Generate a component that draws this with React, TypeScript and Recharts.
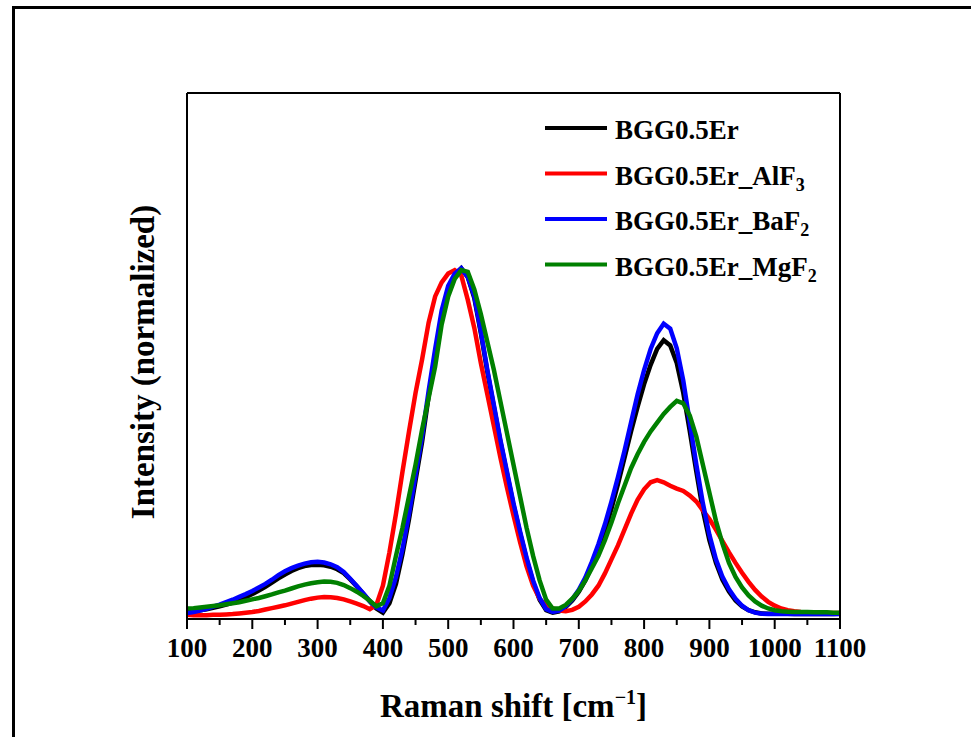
import { LineChart, Line, XAxis, YAxis, Legend, Label } from 'recharts'

const FONT = '"Liberation Serif", "Times New Roman", serif'

// Raman shift (cm^-1), one point every 10 cm^-1
const shift = [
  100, 110, 120, 130, 140, 150, 160, 170, 180, 190,
  200, 210, 220, 230, 240, 250, 260, 270, 280, 290,
  300, 310, 320, 330, 340, 350, 360, 370, 380, 390,
  400, 410, 420, 430, 440, 450, 460, 470, 480, 490,
  500, 510, 520, 530, 540, 550, 560, 570, 580, 590,
  600, 610, 620, 630, 640, 650, 660, 670, 680, 690,
  700, 710, 720, 730, 740, 750, 760, 770, 780, 790,
  800, 810, 820, 830, 840, 850, 860, 870, 880, 890,
  900, 910, 920, 930, 940, 950, 960, 970, 980, 990,
  1000, 1010, 1020, 1030, 1040, 1050, 1060, 1070, 1080, 1090,
  1100,
]

const bgg = [
  0.02, 0.022, 0.025, 0.028, 0.032, 0.036, 0.041, 0.047, 0.054, 0.062,
  0.071, 0.081, 0.092, 0.104, 0.116, 0.127, 0.137, 0.145, 0.151, 0.154,
  0.155, 0.153, 0.149, 0.142, 0.131, 0.113, 0.093, 0.072, 0.05, 0.03,
  0.018, 0.045, 0.1, 0.185, 0.285, 0.395, 0.505, 0.635, 0.755, 0.865,
  0.94, 0.98, 1.0, 0.975, 0.915, 0.815, 0.705, 0.605, 0.505, 0.415,
  0.325, 0.245, 0.17, 0.105, 0.055, 0.025, 0.018, 0.022, 0.034, 0.053,
  0.078, 0.11, 0.15, 0.195, 0.25, 0.315, 0.385, 0.46, 0.535, 0.605,
  0.67, 0.725, 0.77, 0.795, 0.78, 0.73, 0.645, 0.535, 0.42, 0.31,
  0.225, 0.16, 0.112, 0.078, 0.053, 0.036, 0.025, 0.019, 0.016, 0.015,
  0.015, 0.015, 0.015, 0.014, 0.015, 0.014, 0.015, 0.014, 0.015, 0.014,
  0.015,
]

const bggAlF3 = [
  0.012, 0.011, 0.011, 0.011, 0.012, 0.012, 0.013, 0.014, 0.016, 0.018,
  0.02, 0.023, 0.027, 0.031, 0.035, 0.039, 0.044, 0.049, 0.054, 0.058,
  0.061, 0.063, 0.062, 0.06, 0.056, 0.05, 0.044, 0.037, 0.028, 0.04,
  0.095, 0.19, 0.3, 0.42, 0.535, 0.645, 0.74, 0.845, 0.92, 0.96,
  0.985, 0.995, 0.98, 0.91, 0.83, 0.73, 0.64, 0.55, 0.46, 0.375,
  0.295, 0.22, 0.15, 0.095, 0.058, 0.038, 0.03, 0.024, 0.022, 0.026,
  0.035, 0.05, 0.07, 0.095, 0.13, 0.17, 0.21, 0.255, 0.3, 0.34,
  0.37, 0.39, 0.396, 0.39, 0.38, 0.372, 0.365, 0.352, 0.335, 0.31,
  0.285, 0.255, 0.222, 0.19, 0.16, 0.132, 0.106, 0.083, 0.064, 0.049,
  0.038, 0.03, 0.025, 0.022, 0.02, 0.019, 0.018, 0.018, 0.017, 0.017,
  0.017,
]

const bggBaF2 = [
  0.017, 0.02, 0.024, 0.029, 0.035, 0.041, 0.048, 0.055, 0.063, 0.071,
  0.08, 0.09, 0.1, 0.112, 0.125, 0.136, 0.145, 0.152, 0.158, 0.162,
  0.163, 0.161, 0.156, 0.148, 0.134, 0.115, 0.094, 0.073, 0.051, 0.033,
  0.024, 0.06, 0.12, 0.2, 0.3, 0.41, 0.52, 0.65, 0.77, 0.88,
  0.95, 0.985, 1.0, 0.975, 0.92, 0.82, 0.71, 0.61, 0.51, 0.42,
  0.33, 0.25, 0.175, 0.11, 0.06, 0.028, 0.02, 0.024, 0.036, 0.056,
  0.083, 0.118, 0.163, 0.213, 0.27, 0.335, 0.405, 0.48, 0.56, 0.64,
  0.71, 0.77, 0.815, 0.842, 0.828, 0.772, 0.68, 0.56, 0.44, 0.33,
  0.24, 0.17, 0.12, 0.085, 0.058, 0.038, 0.025, 0.018, 0.015, 0.014,
  0.014, 0.014, 0.015, 0.014, 0.014, 0.015, 0.014, 0.014, 0.015, 0.014,
  0.014,
]

const bggMgF2 = [
  0.03, 0.031, 0.033, 0.035, 0.037, 0.039, 0.042, 0.045, 0.048, 0.052,
  0.056, 0.06, 0.065, 0.07, 0.076, 0.081, 0.087, 0.093, 0.098, 0.102,
  0.105, 0.107, 0.106, 0.103, 0.097, 0.088, 0.078, 0.066, 0.052, 0.036,
  0.045, 0.095, 0.18, 0.26, 0.35, 0.44, 0.54, 0.63, 0.72, 0.84,
  0.92, 0.97, 0.995, 0.99, 0.94, 0.87, 0.79, 0.71, 0.62, 0.53,
  0.44, 0.35, 0.26, 0.18, 0.11, 0.055, 0.03, 0.03, 0.04, 0.058,
  0.08, 0.11, 0.145, 0.18, 0.225, 0.275, 0.33, 0.38, 0.43, 0.47,
  0.505, 0.535, 0.56, 0.585, 0.605, 0.622, 0.615, 0.58, 0.52, 0.44,
  0.36, 0.28, 0.215, 0.16, 0.12, 0.09, 0.067, 0.05, 0.038, 0.03,
  0.025, 0.022, 0.021, 0.02, 0.02, 0.02, 0.019, 0.019, 0.019, 0.018,
  0.018,
]

const xTicks = [
  100, 150, 200, 250, 300, 350, 400, 450, 500, 550, 600,
  650, 700, 750, 800, 850, 900, 950, 1000, 1050, 1100,
]

const series = [
  { key: 'bgg', base: 'BGG0.5Er', sub: '', color: '#000000' },
  { key: 'alf3', base: 'BGG0.5Er_AlF', sub: '3', color: '#ff0000' },
  { key: 'baf2', base: 'BGG0.5Er_BaF', sub: '2', color: '#0000ff' },
  { key: 'mgf2', base: 'BGG0.5Er_MgF', sub: '2', color: '#008000' },
]

const data = shift.map((x, i) => ({
  shift: x,
  bgg: bgg[i],
  alf3: bggAlF3[i],
  baf2: bggBaF2[i],
  mgf2: bggMgF2[i],
}))

const TICK_SIZE = 10
const TICK_MARGIN = 6

// major ticks every 100 get a label, minor ones every 50 are shorter
function XTick(props: any) {
  const { x, y, payload } = props
  const major = payload.value % 100 === 0
  const axisY = y - TICK_SIZE - TICK_MARGIN
  return (
    <g>
      <line x1={x} x2={x} y1={axisY} y2={axisY + (major ? 10 : 6)} stroke="#000" strokeWidth={2} />
      {major && (
        <text x={x} y={axisY + 38} textAnchor="middle" fontSize={27} fontWeight={700} fill="#000">
          {payload.value}
        </text>
      )}
    </g>
  )
}

function XTitle(props: any) {
  const { x, y, width } = props.viewBox
  return (
    <text x={x + width / 2} y={y + 98} textAnchor="middle" fontSize={33} fontWeight={700} fill="#000">
      Raman shift [cm
      <tspan dy={-13} fontSize={20}>−1</tspan>
      <tspan dy={13}>]</tspan>
    </text>
  )
}

function YTitle(props: any) {
  const { x, y, height } = props.viewBox
  const cx = x + 16
  const cy = y + height / 2 + 6
  return (
    <text
      x={cx}
      y={cy}
      transform={`rotate(-90, ${cx}, ${cy})`}
      textAnchor="middle"
      dominantBaseline="central"
      fontSize={33}
      fontWeight={700}
      fill="#000"
    >
      Intensity (normalized)
    </text>
  )
}

function LegendBox() {
  return (
    <svg width={300} height={180} style={{ fontFamily: FONT }}>
      {series.map((s, i) => {
        const ly = 16 + i * 45.5
        return (
          <g key={s.key}>
            <line x1={0} x2={62} y1={ly} y2={ly} stroke={s.color} strokeWidth={4} />
            <text x={70} y={ly + 11} fontSize={27} fontWeight={700} fill="#000">
              {s.base}
              {s.sub && (
                <tspan dy={6} fontSize={18}>
                  {s.sub}
                </tspan>
              )}
            </text>
          </g>
        )
      })}
    </svg>
  )
}

export default function App() {
  return (
    <div style={{ position: 'absolute', left: 0, top: 0, width: 971, height: 737, overflow: 'hidden', background: '#fff' }}>
      <div
        style={{
          position: 'absolute',
          left: 12,
          top: 6,
          width: 1000,
          height: 800,
          border: '3px solid #000',
        }}
      />
      <LineChart
        width={971}
        height={737}
        data={data}
        margin={{ top: 92, right: 130, bottom: 78, left: 127 }}
        style={{ fontFamily: FONT }}
      >
        <XAxis
          dataKey="shift"
          type="number"
          domain={[100, 1100]}
          ticks={xTicks}
          interval={0}
          height={40}
          tickSize={TICK_SIZE}
          tickMargin={TICK_MARGIN}
          tickLine={false}
          tick={<XTick />}
          axisLine={{ stroke: '#000', strokeWidth: 2 }}
        >
          <Label content={<XTitle />} />
        </XAxis>
        <XAxis
          xAxisId="top"
          orientation="top"
          dataKey="shift"
          type="number"
          domain={[100, 1100]}
          height={1}
          tick={false}
          tickLine={false}
          axisLine={{ stroke: '#000', strokeWidth: 2 }}
        />
        <YAxis
          type="number"
          domain={[0, 1.5]}
          width={60}
          tick={false}
          tickLine={false}
          axisLine={{ stroke: '#000', strokeWidth: 2 }}
        >
          <Label content={<YTitle />} />
        </YAxis>
        <YAxis
          yAxisId="right"
          orientation="right"
          type="number"
          domain={[0, 1.5]}
          width={1}
          tick={false}
          tickLine={false}
          axisLine={{ stroke: '#000', strokeWidth: 2 }}
        />
        <Legend
          layout="horizontal"
          verticalAlign="middle"
          align="center"
          content={() => <LegendBox />}
          wrapperStyle={{ position: 'absolute', left: 545, top: 112, width: 300, height: 180 }}
        />
        {series.map((s) => (
          <Line
            key={s.key}
            dataKey={s.key}
            type="linear"
            stroke={s.color}
            strokeWidth={4.5}
            dot={false}
            activeDot={false}
            isAnimationActive={false}
          />
        ))}
      </LineChart>
    </div>
  )
}
